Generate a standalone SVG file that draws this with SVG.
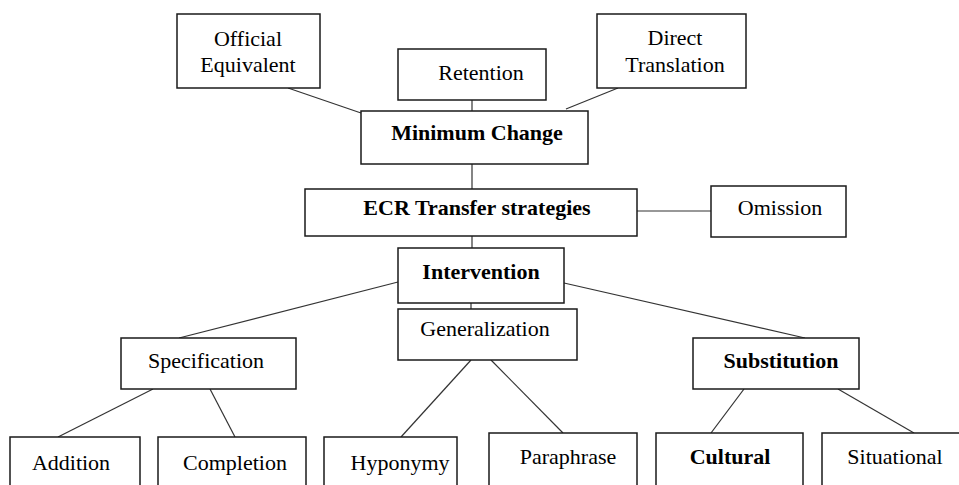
<svg xmlns="http://www.w3.org/2000/svg" width="959" height="485" viewBox="0 0 959 485">
<style>
rect{fill:#fff;stroke:#1a1a1a;stroke-width:1.5}
line{stroke:#333;stroke-width:1.2}
text{font-family:"Liberation Serif","Times New Roman",serif;font-size:22px;fill:#000;text-anchor:middle}
.b{font-weight:bold}
</style>
<rect x="0" y="0" width="959" height="485" style="stroke:none"/>
<g id="connectors">
<line x1="288" y1="88" x2="361" y2="113"/>
<line x1="472" y1="100" x2="472" y2="111"/>
<line x1="566" y1="109" x2="618" y2="88"/>
<line x1="472" y1="164" x2="472" y2="189"/>
<line x1="637" y1="211" x2="711" y2="211"/>
<line x1="472" y1="236" x2="472" y2="248"/>
<line x1="471" y1="303" x2="471" y2="309"/>
<line x1="398" y1="282" x2="179" y2="338"/>
<line x1="564" y1="283" x2="805" y2="338"/>
<line x1="153" y1="389" x2="58" y2="437"/>
<line x1="210" y1="389" x2="235" y2="437"/>
<line x1="471" y1="360" x2="401" y2="437"/>
<line x1="491" y1="360" x2="563" y2="433"/>
<line x1="744" y1="389" x2="711" y2="433"/>
<line x1="838" y1="389" x2="914" y2="433"/>
</g>
<g id="official"><rect x="177" y="14" width="143" height="74"/><text x="248" y="46">Official</text><text x="248" y="72">Equivalent</text></g>
<g id="retention"><rect x="398" y="49" width="148" height="51"/><text x="481" y="80">Retention</text></g>
<g id="direct"><rect x="597" y="14" width="149" height="74"/><text x="675" y="45">Direct</text><text x="675" y="72">Translation</text></g>
<g id="minimum"><rect x="361" y="111" width="227" height="53"/><text class="b" x="477" y="140">Minimum Change</text></g>
<g id="ecr"><rect x="305" y="189" width="332" height="47"/><text class="b" x="477" y="215">ECR Transfer strategies</text></g>
<g id="omission"><rect x="711" y="186" width="135" height="51"/><text x="780" y="215">Omission</text></g>
<g id="intervention"><rect x="398" y="248" width="166" height="55"/><text class="b" x="481" y="279">Intervention</text></g>
<g id="generalization"><rect x="398" y="309" width="179" height="51"/><text x="485" y="336">Generalization</text></g>
<g id="specification"><rect x="121" y="338" width="175" height="51"/><text x="206" y="368">Specification</text></g>
<g id="substitution"><rect x="693" y="338" width="166" height="51"/><text class="b" x="781" y="368">Substitution</text></g>
<g id="addition"><rect x="10" y="437" width="130" height="60"/><text x="71" y="470">Addition</text></g>
<g id="completion"><rect x="158" y="437" width="148" height="60"/><text x="235" y="470">Completion</text></g>
<g id="hyponymy"><rect x="324" y="437" width="133" height="60"/><text x="400" y="470">Hyponymy</text></g>
<g id="paraphrase"><rect x="489" y="433" width="148" height="60"/><text x="568" y="464">Paraphrase</text></g>
<g id="cultural"><rect x="656" y="433" width="147" height="60"/><text class="b" x="730" y="464">Cultural</text></g>
<g id="situational"><rect x="822" y="433" width="140" height="60"/><text x="895" y="464">Situational</text></g>
</svg>
